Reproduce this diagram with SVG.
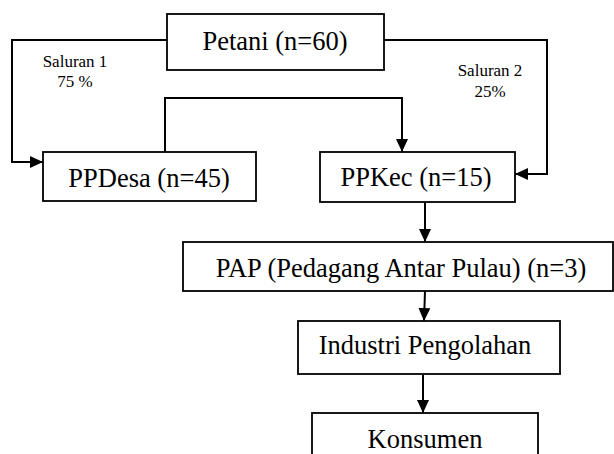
<svg xmlns="http://www.w3.org/2000/svg" width="614" height="454" viewBox="0 0 614 454">
<style>
.box{fill:#fff;stroke:#000;stroke-width:1.8}
.t{font-family:'Liberation Serif','Times New Roman',Times,serif;font-size:26.5px;fill:#000;text-anchor:middle}
.s{font-family:'Liberation Serif','Times New Roman',Times,serif;font-size:17px;fill:#000;text-anchor:middle}
.c{fill:none;stroke:#000;stroke-width:2}
</style>
<defs>
<marker id="ah" markerUnits="userSpaceOnUse" markerWidth="14" markerHeight="12" refX="13" refY="6" orient="auto">
<path d="M0,0 L13,6 L0,12 z" fill="#000"/>
</marker>
</defs>
<rect width="614" height="454" fill="#fff"/>
<g id="connectors">
<polyline class="c" points="167,40 12,40 12,162 43,162" marker-end="url(#ah)"/>
<polyline class="c" points="165,152 165,98 402,98 402,152" marker-end="url(#ah)"/>
<polyline class="c" points="384,40 547,40 547,174 515,174" marker-end="url(#ah)"/>
<line class="c" x1="425" y1="202" x2="425" y2="242" marker-end="url(#ah)"/>
<line class="c" x1="425" y1="291" x2="424" y2="321" marker-end="url(#ah)"/>
<line class="c" x1="423" y1="375" x2="423" y2="413" marker-end="url(#ah)"/>
<text class="s" x="75" y="67" font-family="Liberation Serif, serif">Saluran 1</text>
<text class="s" x="75" y="87" font-family="Liberation Serif, serif">75 %</text>
<text class="s" x="490" y="76" font-family="Liberation Serif, serif">Saluran 2</text>
<text class="s" x="490" y="97" font-family="Liberation Serif, serif">25%</text>
</g>
<g id="petani">
<rect class="box" x="167" y="14" width="217" height="56"/>
<text class="t" x="275" y="50" font-family="Liberation Serif, serif">Petani (n=60)</text>
</g>
<g id="ppdesa">
<rect class="box" x="43" y="152" width="213" height="49"/>
<text class="t" x="149" y="187" font-family="Liberation Serif, serif">PPDesa (n=45)</text>
</g>
<g id="ppkec">
<rect class="box" x="320" y="152" width="195" height="50"/>
<text class="t" x="416" y="186" font-family="Liberation Serif, serif">PPKec (n=15)</text>
</g>
<g id="pap">
<rect class="box" x="183" y="242" width="430" height="49"/>
<text class="t" x="401" y="277" font-family="Liberation Serif, serif">PAP (Pedagang Antar Pulau) (n=3)</text>
</g>
<g id="industri">
<rect class="box" x="298" y="321" width="262" height="53"/>
<text class="t" x="425" y="354" font-family="Liberation Serif, serif">Industri Pengolahan</text>
</g>
<g id="konsumen">
<rect class="box" x="312" y="413" width="226" height="60"/>
<text class="t" x="425" y="448" font-family="Liberation Serif, serif">Konsumen</text>
</g>
</svg>
